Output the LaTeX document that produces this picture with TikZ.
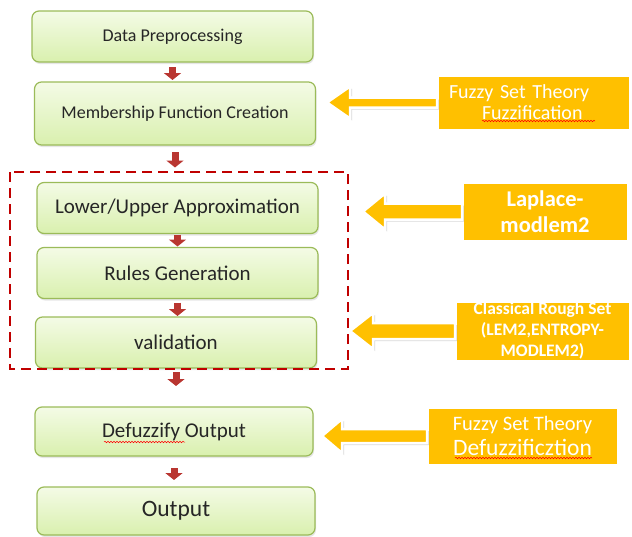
\documentclass[tikz,border=0pt]{standalone}
\usepackage{fontspec}
\setmainfont{Carlito}
\usetikzlibrary{calc,shadows,arrows.meta,decorations.pathmorphing}
\definecolor{boxline}{HTML}{9BBB59}
\definecolor{boxtop}{HTML}{F4FBE6}
\definecolor{boxbot}{HTML}{D9F0AE}
\definecolor{flowred}{HTML}{B93631}
\definecolor{gold}{HTML}{FFC000}
\definecolor{dashred}{HTML}{C00000}
% tip, note, head length, head half height, shaft half height
\newcommand{\notearrow}[5]{%
  \path[callarrow] (#1) -- ++(#3,#4) -- ++(0,#5-#4) -- ($(#2.west)+(0,#5)$)
    -- ++(0,-2*#5) -- ($(#1)+(#3,-#5)$) -- ++(0,#5-#4) -- cycle;}
\begin{document}
\begin{tikzpicture}[x=1pt,y=1pt]
  \tikzstyle{every node}+=[inner sep=0pt, outer sep=0pt]
  \tikzstyle{stage}=[rectangle, rounded corners=7pt, draw=boxline, line width=1.2pt,
    top color=boxtop, bottom color=boxbot, text=black!85, minimum width=281, minimum height=51,
    drop shadow={shadow xshift=1pt, shadow yshift=-2pt, opacity=0.2}]
  \tikzstyle{note}=[rectangle, fill=gold, draw=white, line width=3pt, text=white, align=center,
    drop shadow={shadow xshift=2pt, shadow yshift=-2pt, opacity=0.3}]
  \tikzstyle{callarrow}=[fill=gold, draw=white, line width=2.5pt, line join=miter,
    drop shadow={shadow xshift=2pt, shadow yshift=-2pt, opacity=0.3}]
  \tikzstyle{flow}=[flowred, line width=7pt, -{Triangle[width=17pt,length=7pt]}]
  \tikzstyle{spelling}=[red, line width=0.5pt, decorate, decoration={snake, segment length=3pt, amplitude=0.8pt}]
  \tikzstyle{small}=[font=\fontsize{18}{21}\selectfont]
  \tikzstyle{large}=[font=\fontsize{21}{24}\selectfont]
  \useasboundingbox (0,0) rectangle (632,-536);

  \node [stage, small] (prep) at (172.5,-36.5) {Data Preprocessing};
  \node [stage, small, minimum height=63] (member) at (175,-113.5) {Membership Function Creation};
  \node [stage, large] (approx) at (177.5,-208) {Lower/Upper Approximation};
  \node [stage, large] (rules) at (177.5,-273) {Rules Generation};
  \node [stage, large] (valid) at (176,-342.5) {validation};
  \node [stage, large, minimum width=278, minimum height=49] (defuzz) at (174,-431.5) {Defuzzify Output};
  \node [stage, font=\fontsize{23.5}{26}\selectfont, minimum width=278, minimum height=48] (out) at (176,-511) {Output};

  \draw [dashred, line width=2.5pt, dash pattern=on 10pt off 6pt] (10,-172) rectangle (348,-369);

  \draw [flow, shorten <=5pt, shorten >=2pt] (prep.south) -- (prep.south |- member.north);
  \draw [flow, shorten <=7pt, shorten >=15pt] (member.south) -- (member.south |- approx.north);
  \draw [flow, shorten <=1pt, shorten >=1pt] (approx.south) -- (approx.south |- rules.north);
  \draw [flow, shorten <=4pt, shorten >=1pt] (rules.south) -- (rules.south |- valid.north);
  \draw [flow, shorten <=4pt, shorten >=21pt] (valid.south) -- (valid.south |- defuzz.north);
  \draw [flow, shorten <=12pt, shorten >=7pt] (defuzz.south) -- (defuzz.south |- out.north);

  \node [note, align=left, text width=169, inner xsep=12pt, minimum height=55,
    font=\fontsize{20}{21}\selectfont] (fuzzify) at (533.5,-102.5)
    {Fuzzy Set Theory\\\hspace*{33pt}Fuzzification};
  \node [note, minimum width=166, minimum height=59, font=\bfseries\fontsize{22.5}{26}\selectfont]
    (laplace) at (545,-211.5) {Laplace-\\modlem2};
  \node [note, minimum width=175, minimum height=60, font=\bfseries\fontsize{17.5}{21}\selectfont]
    (rough) at (542.5,-331) {Classical Rough Set\\(LEM2,ENTROPY-\\MODLEM2)};
  \node [note, minimum width=191, minimum height=58, font=\fontsize{20.5}{25}\selectfont]
    (defnote) at (522.5,-436) {Fuzzy Set Theory\\{\fontsize{23.5}{25}\selectfont Defuzzificztion}};

  \draw [spelling] ($(fuzzify.south west)+(45,9)$) -- ++(113,0);
  \draw [spelling] ($(defuzz.south west)+(69,14)$) -- ++(81,0);
  \draw [spelling] ($(defnote.south west)+(28,7)$) -- ++(137,0);

  \coordinate (fuzzifytip) at (327,-102.5);
  \coordinate (laplacetip) at (363,-211.5);
  \coordinate (roughtip) at (350,-331);
  \coordinate (defnotetip) at (322,-436);
  \notearrow{fuzzifytip}{fuzzify}{23}{16}{5}
  \notearrow{laplacetip}{laplace}{22}{18}{8}
  \notearrow{roughtip}{rough}{23}{18}{8}
  \notearrow{defnotetip}{defnote}{20}{17}{7}
\end{tikzpicture}
\end{document}
